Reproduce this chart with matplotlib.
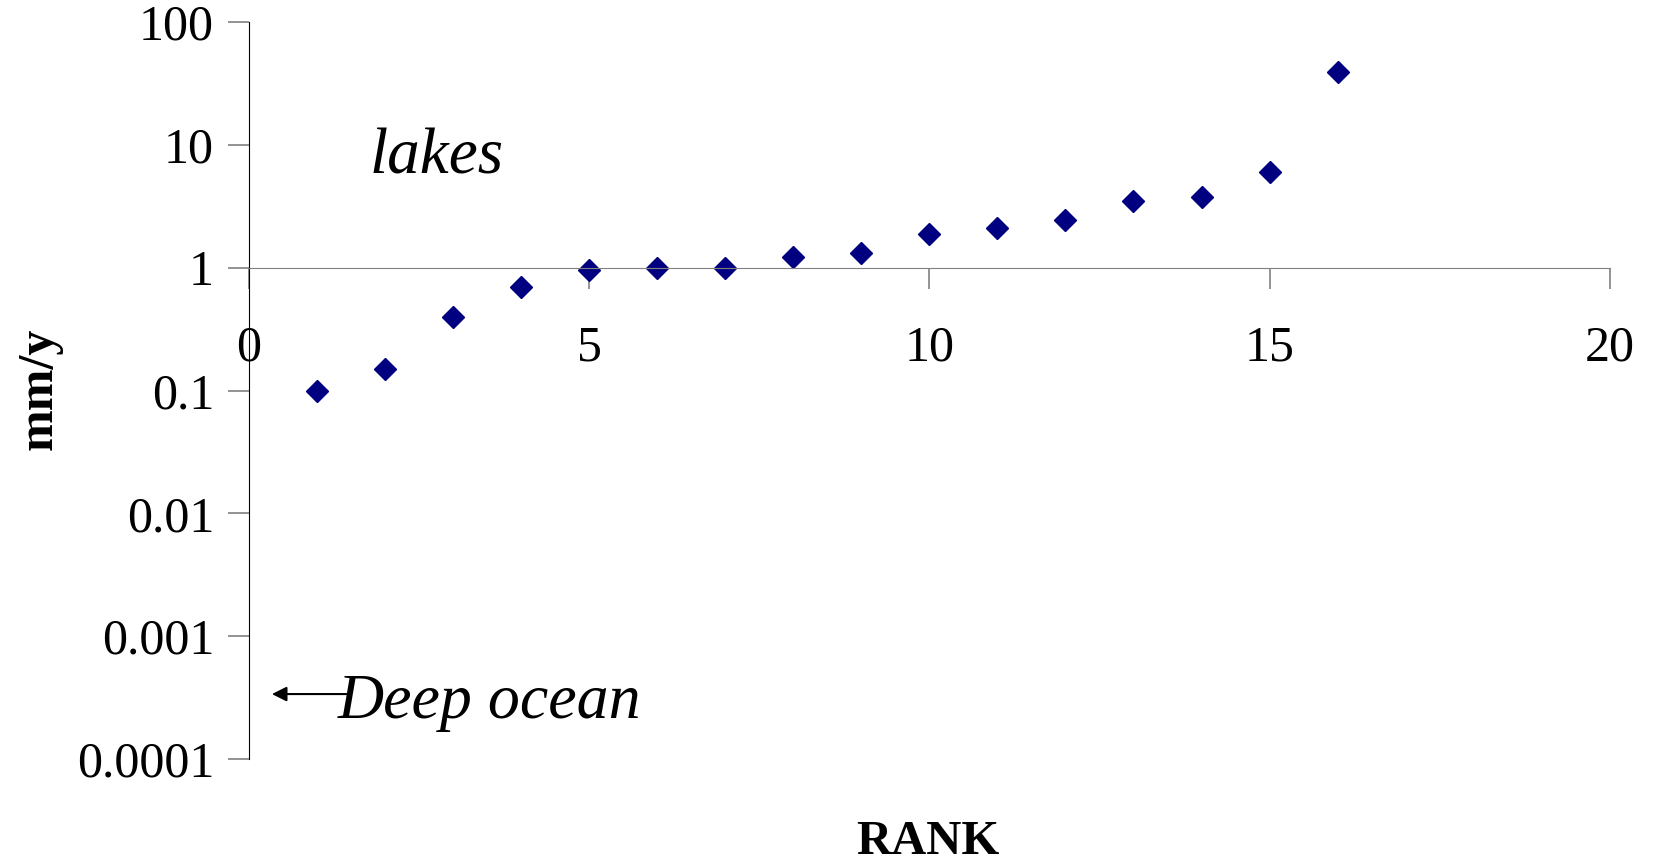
import numpy as np
import matplotlib
matplotlib.use("Agg")
import matplotlib.pyplot as plt

# rank vs rate (mm/y)
rank = [1, 2, 3, 4, 5, 6, 7, 8, 9, 10, 11, 12, 13, 14, 15, 16]
rate = [0.10, 0.15, 0.40, 0.70, 0.96, 1.0, 1.0, 1.22, 1.32, 1.88,
        2.12, 2.43, 3.5, 3.76, 6.0, 39.5]

xticks = [0, 5, 10, 15, 20]
yticks = [0.0001, 0.001, 0.01, 0.1, 1, 10, 100]
ytick_labels = ["0.0001", "0.001", "0.01", "0.1", "1", "10", "100"]

plt.rcParams["font.family"] = ["Liberation Serif", "DejaVu Serif"]

fig = plt.figure(figsize=(16.53, 8.64), dpi=100)
ax = fig.add_axes([0.1505, 0.1215, 0.8234, 0.853])

ax.plot(rank, rate, ls="none", marker="D", ms=11, color="#000080",
        markeredgecolor="#000080")

ax.set_yscale("log")
ax.set_ylim(1e-4, 100)
ax.set_xlim(0, 20)
ax.set_yticks(yticks)
ax.set_yticklabels(ytick_labels)
ax.yaxis.set_minor_locator(matplotlib.ticker.NullLocator())
ax.set_xticks(xticks)
ax.set_xticklabels([str(v) for v in xticks])

# x axis crosses at y = 1
ax.spines["bottom"].set_position(("data", 1))
ax.spines["bottom"].set_color("#808080")
ax.spines["left"].set_color("black")
ax.spines["top"].set_visible(False)
ax.spines["right"].set_visible(False)
ax.tick_params(axis="y", direction="out", length=15, width=1.2,
               color="#808080", labelsize=36, pad=10)
ax.tick_params(axis="x", direction="out", length=15, width=1.2,
               color="#808080", labelsize=36, pad=26)

ax.text(2.76, 10 ** 0.763, "lakes", style="italic", fontsize=47,
        ha="center", va="baseline")
ax.annotate("", xy=(0.34, 3.38e-4), xytext=(1.5, 3.38e-4),
            arrowprops=dict(arrowstyle="-|>", color="black", lw=1.5,
                            mutation_scale=22, shrinkA=0, shrinkB=0))
ax.text(1.31, 2.15e-4, "Deep ocean", style="italic", fontsize=46,
        ha="left", va="baseline")

fig.text(0.5615, 0.025, "RANK", fontsize=35, fontweight="bold",
         ha="center", va="center")
fig.text(0.024, 0.55, "mm/y", fontsize=36, fontweight="bold",
         ha="center", va="center", rotation=90)

fig.savefig("out.png", dpi=100)
